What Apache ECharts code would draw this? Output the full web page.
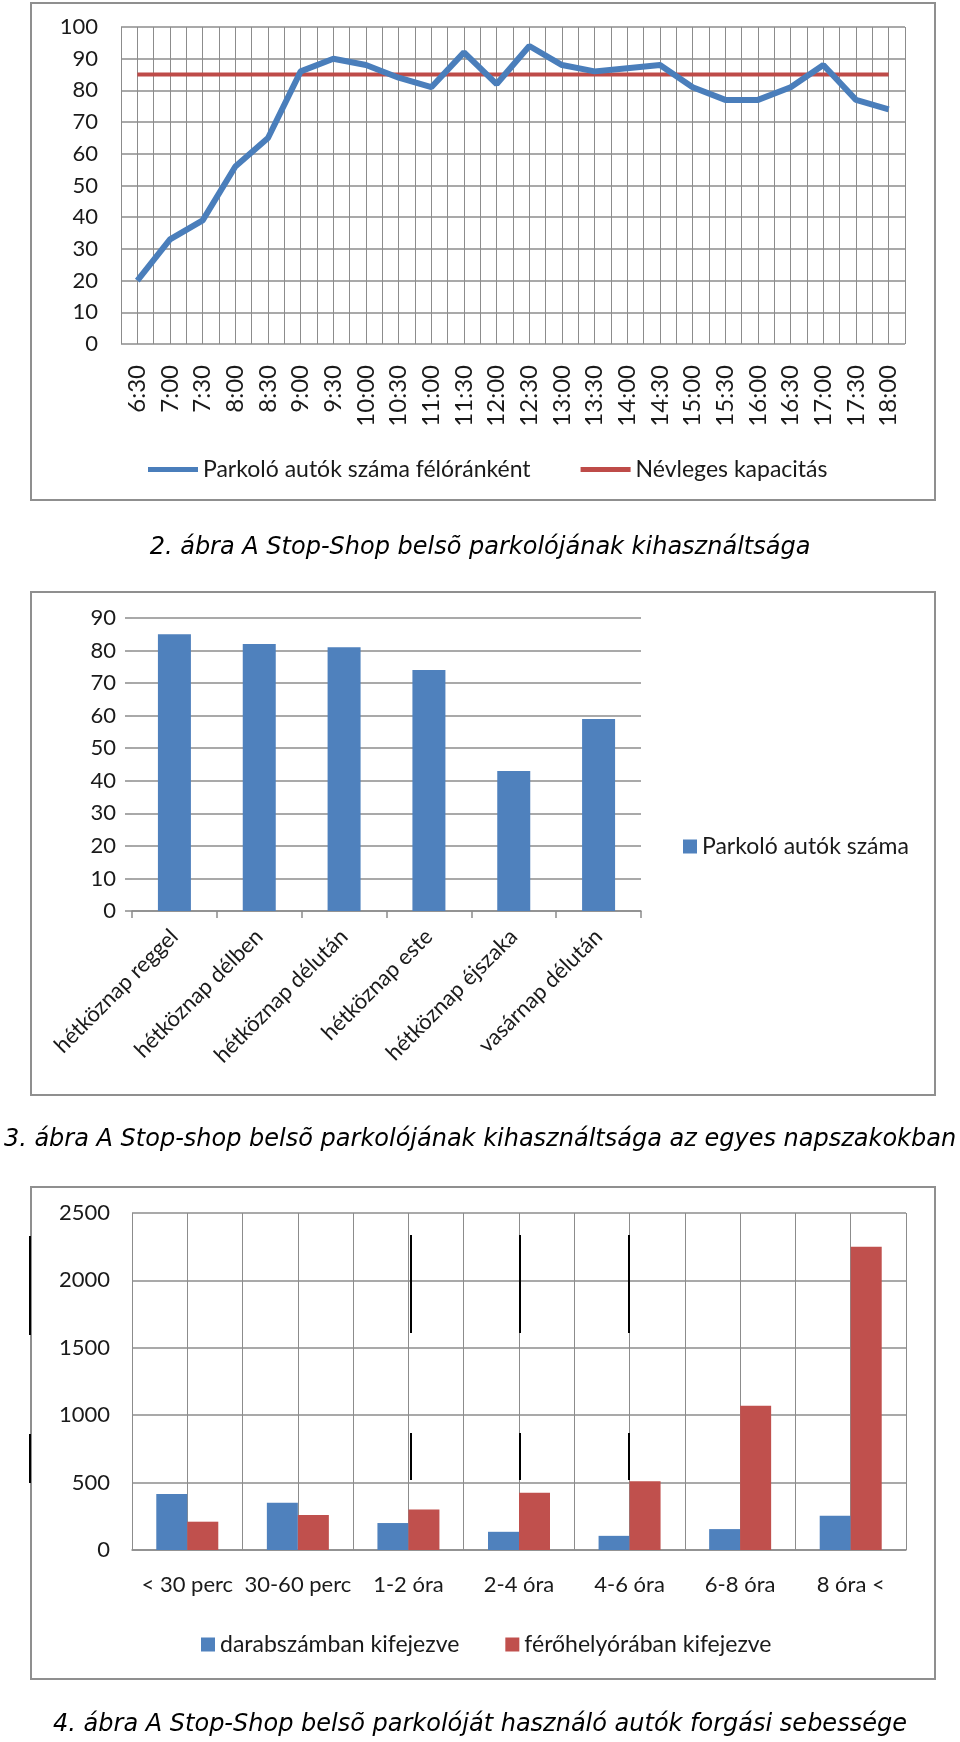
<!DOCTYPE html>
<html>
<head>
<meta charset="utf-8">
<script src="https://cdn.jsdelivr.net/npm/echarts/dist/echarts.min.js"></script>
<style>
html,body{margin:0;padding:0;background:#fff;}
#main{width:960px;height:1742px;}
</style>
</head>
<body>
<div id="main"></div>
<script>
// ---- Chart 1 data ----
const times = ['6:30','7:00','7:30','8:00','8:30','9:00','9:30','10:00','10:30','11:00','11:30','12:00',
  '12:30','13:00','13:30','14:00','14:30','15:00','15:30','16:00','16:30','17:00','17:30','18:00'];
const parkedPerHalfHour = [20,33,39,56,65,86,90,88,84,81,92,82,94,88,86,87,88,81,77,77,81,88,77,74];
const nominalCapacity = [85,85,85,85,85,85,85,85,85,85,85,85,85,85,85,85,85,85,85,85,85,85,85,85];
const yTicks1 = {min:0, max:100, step:10};

// ---- Chart 2 data ----
const periods = ['hétköznap reggel','hétköznap délben','hétköznap délután','hétköznap este','hétköznap éjszaka','vasárnap délután'];
const parkedCars = [85,82,81,74,43,59];
const yTicks2 = {min:0, max:90, step:10};

// ---- Chart 3 data ----
const durations = ['< 30 perc','30-60 perc','1-2 óra','2-4 óra','4-6 óra','6-8 óra','8 óra <'];
const countBased = [415,350,200,135,105,155,255];
const spaceHourBased = [210,260,300,425,510,1070,2250];
const yTicks3 = {min:0, max:2500, step:500};

// ---- Texts ----
const captions = [
  '2. ábra A Stop-Shop belsõ parkolójának kihasználtsága',
  '3. ábra A Stop-shop belsõ parkolójának kihasználtsága az egyes napszakokban',
  '4. ábra A Stop-Shop belsõ parkolóját használó autók forgási sebessége'
];
const seriesNames = {
  line: 'Parkoló autók száma félóránként',
  cap: 'Névleges kapacitás',
  bar2: 'Parkoló autók száma',
  cnt: 'darabszámban kifejezve',
  fh: 'férőhelyórában kifejezve'
};

const FONT = 'Lato, "Liberation Sans", sans-serif';
const CAPFONT = '"DejaVu Sans", sans-serif';
const GRID = '#8c8c8c';
const BLUE = '#4F81BD';
const RED = '#C0504D';
const TXT = '#1a1a1a';
const FS = 22;
const LFS = 23;

const chart = echarts.init(document.getElementById('main'), null, {renderer:'canvas'});

function frame(x,y,w,h){
  return {type:'rect', shape:{x:x,y:y,width:w,height:h}, style:{fill:'none', stroke:'#8f8f8f', lineWidth:2}, silent:true};
}
function blk(x,y1,y2){
  return {type:'line', shape:{x1:x,y1:y1,x2:x,y2:y2}, style:{stroke:'#000', lineWidth:2}, silent:true, z:100};
}
function cap(text,y){
  return {type:'text', x:480, y:y, style:{text:text, textAlign:'center', textVerticalAlign:'middle',
    fontSize:24, fontStyle:'italic', fontFamily:CAPFONT, fill:'#000'}, silent:true};
}
const plain = v => String(v);

const option = {
  backgroundColor:'#fff',
  animation:false,
  grid:[
    {left:121, top:27, width:784, height:317},
    {left:132, top:618, width:509, height:293},
    {left:132, top:1213, width:774, height:337}
  ],
  xAxis:[
    {type:'category', gridIndex:0, data:times, boundaryGap:true,
      axisLine:{show:false}, axisTick:{show:false}, splitLine:{show:false},
      axisLabel:{interval:0, rotate:90, margin:21, fontSize:24, fontFamily:FONT, color:TXT}},
    {type:'value', gridIndex:0, min:0, max:times.length*2, interval:1, show:true,
      axisLine:{show:false}, axisTick:{show:false}, axisLabel:{show:false},
      splitLine:{show:true, lineStyle:{color:GRID, width:1}}},
    {type:'category', gridIndex:1, data:periods, boundaryGap:true,
      axisLine:{show:true, lineStyle:{color:GRID, width:1.5}},
      axisTick:{show:true, length:7, lineStyle:{color:GRID, width:1.5}},
      axisLabel:{interval:0, rotate:45, margin:22, fontSize:FS, fontFamily:FONT, color:TXT}},
    {type:'category', gridIndex:2, data:durations, boundaryGap:true,
      axisLine:{show:true, lineStyle:{color:GRID, width:1.5}}, axisTick:{show:false},
      axisLabel:{interval:0, margin:24, fontSize:FS, fontFamily:FONT, color:TXT}},
    {type:'value', gridIndex:2, min:0, max:durations.length*2, interval:1,
      axisLine:{show:false}, axisTick:{show:false}, axisLabel:{show:false},
      splitLine:{show:true, lineStyle:{color:GRID, width:1}}}
  ],
  yAxis:[
    {type:'value', gridIndex:0, min:yTicks1.min, max:yTicks1.max, interval:yTicks1.step,
      axisLine:{show:false}, axisTick:{show:false},
      splitLine:{show:true, lineStyle:{color:GRID, width:1.5}},
      axisLabel:{margin:23, fontSize:FS, fontFamily:FONT, color:TXT, formatter:plain}},
    {type:'value', gridIndex:1, min:yTicks2.min, max:yTicks2.max, interval:yTicks2.step,
      axisLine:{show:false}, axisTick:{show:true, length:7, lineStyle:{color:GRID, width:1.5}},
      splitLine:{show:true, lineStyle:{color:GRID, width:1.5}},
      axisLabel:{margin:16, fontSize:FS, fontFamily:FONT, color:TXT, formatter:plain}},
    {type:'value', gridIndex:2, min:yTicks3.min, max:yTicks3.max, interval:yTicks3.step,
      axisLine:{show:false}, axisTick:{show:false},
      splitLine:{show:true, lineStyle:{color:GRID, width:1.5}},
      axisLabel:{margin:22, fontSize:FS, fontFamily:FONT, color:TXT, formatter:plain}}
  ],
  legend:[
    {left:143, top:453, itemGap:50, itemWidth:50, itemHeight:5, icon:'rect',
      textStyle:{fontSize:LFS, fontFamily:FONT, color:TXT},
      data:[seriesNames.line, seriesNames.cap]},
    {left:678, top:830, itemWidth:14, itemHeight:14, icon:'rect',
      textStyle:{fontSize:LFS, fontFamily:FONT, color:TXT},
      data:[seriesNames.bar2]},
    {left:196, top:1628, itemGap:46, itemWidth:14, itemHeight:14, icon:'rect',
      textStyle:{fontSize:LFS, fontFamily:FONT, color:TXT},
      data:[seriesNames.cnt, seriesNames.fh]}
  ],
  series:[
    {name:seriesNames.line, type:'line', xAxisIndex:0, yAxisIndex:0, data:parkedPerHalfHour,
      showSymbol:false, symbol:'none', lineStyle:{color:'#4A7EBB', width:6}, itemStyle:{color:'#4A7EBB'}, z:4},
    {name:seriesNames.cap, type:'line', xAxisIndex:0, yAxisIndex:0, data:nominalCapacity,
      showSymbol:false, symbol:'none', lineStyle:{color:'#BE4B48', width:4}, itemStyle:{color:'#BE4B48'}, z:3},
    {name:seriesNames.bar2, type:'bar', xAxisIndex:2, yAxisIndex:1, data:parkedCars,
      barWidth:33, itemStyle:{color:BLUE}},
    {name:seriesNames.cnt, type:'bar', xAxisIndex:3, yAxisIndex:2, data:countBased,
      barWidth:31, barGap:'0%', itemStyle:{color:BLUE}},
    {name:seriesNames.fh, type:'bar', xAxisIndex:3, yAxisIndex:2, data:spaceHourBased,
      barWidth:31, barGap:'0%', itemStyle:{color:RED}}
  ],
  graphic:[
    frame(31,3,904,497),
    frame(31,592,904,503),
    frame(31,1187,904,492),
    cap(captions[0],548),
    cap(captions[1],1140),
    cap(captions[2],1725),
    blk(30,1236,1335), blk(30,1434,1483),
    blk(411,1235,1333), blk(411,1433,1480),
    blk(520,1235,1333), blk(520,1433,1480),
    blk(629,1235,1333), blk(629,1433,1480)
  ]
};
chart.setOption(option);
</script>
</body>
</html>
